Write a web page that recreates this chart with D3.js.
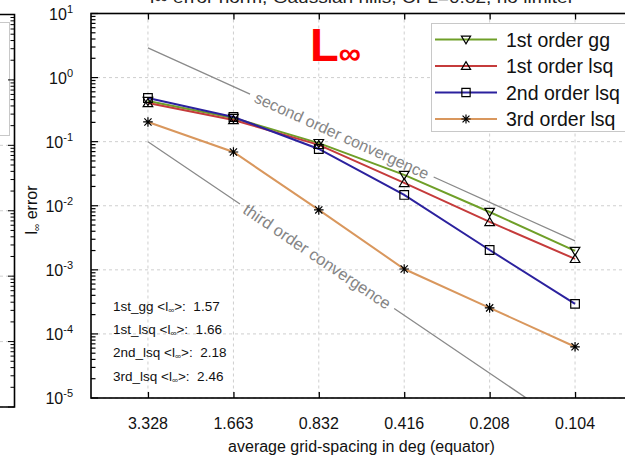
<!DOCTYPE html>
<html><head><meta charset="utf-8">
<script src="https://cdn.jsdelivr.net/npm/d3@7"></script>
<style>
body{margin:0;background:#fff}
svg{display:block}
text{font-family:"Liberation Sans",Arial,Helvetica,sans-serif}
</style>
</head><body>
<svg id="c" width="625" height="457"></svg>
<script>
// ---------- data ----------
const spacings = [3.328, 1.663, 0.832, 0.416, 0.208, 0.104];
const spacingLabels = ["3.328", "1.663", "0.832", "0.416", "0.208", "0.104"];
const gg1  = [0.43, 0.234, 0.095, 0.0303, 0.0080, 0.00197];
const lsq1 = [0.40, 0.218, 0.089, 0.0227, 0.00559, 0.00148];
const lsq2 = [0.48, 0.243, 0.0769, 0.01476, 0.00204, 0.000294];
const lsq3 = [0.203, 0.069, 0.0086, 0.00103, 0.000255, 0.000063];
const seriesNames = ["1st order gg", "1st order lsq", "2nd order lsq", "3rd order lsq"];
const seriesColors = ["#6f9f28", "#c53b3b", "#2b219e", "#d9975d"];
const seriesMarkers = ["tri-down", "tri-up", "square", "star"];
const yTickExps = [1, 0, -1, -2, -3, -4, -5];
const rateNames = ["1st_gg", "1st_lsq", "2nd_lsq", "3rd_lsq"];
const rateValues = ["1.57", "1.66", "2.18", "2.46"];
const secondOrderH = [3.328, 0.104], secondOrderV = [2.9, 0.00283];
const thirdOrderH = [3.328, 0.104], thirdOrderV = [0.1, 3.05e-6];
const titleText = "l\u221E error norm, Gaussian hills, CFL=0.82, no limiter";

const allSeries = [gg1, lsq1, lsq2, lsq3];

// ---------- layout ----------
const svg = d3.select("#c");
const L = 91, R = 632, T = 13.5, B = 398;
const ext = Math.pow(2, 2/3);
const x = d3.scaleLog().domain([spacings[0]*ext, spacings[5]/ext]).range([L, R]);
const y = d3.scaleLog().domain([1e-5, 10]).range([B, T]);

const defs = svg.append("defs");
defs.append("clipPath").attr("id", "plotclip").append("rect")
  .attr("x", L).attr("y", T).attr("width", R - L).attr("height", B - T);

// ---------- left partial neighbour panel ----------
const yL = d3.scaleLog().domain([1e-5, 10]).range([407, 14.5]);
const lp = svg.append("g");
yTickExps.forEach(e => {
  lp.append("line").attr("x1", 0).attr("x2", 14).attr("y1", yL(Math.pow(10, e))).attr("y2", yL(Math.pow(10, e)))
    .attr("stroke", "#cfcfcf").attr("stroke-dasharray", "3,3");
});
lp.append("rect").attr("x", -120).attr("y", 22.5).attr("width", 129.5).attr("height", 113)
  .attr("fill", "#fff").attr("stroke", "#c8c8c8");
const minorL = [];
for (let e = -5; e < 1; e++) for (let m = 1; m < 10; m++) minorL.push(m * Math.pow(10, e));
minorL.push(10);
lp.selectAll("line.tk").data(minorL).join("line").attr("class", "tk")
  .attr("x1", 14.5).attr("x2", d => Math.abs(Math.log10(d) - Math.round(Math.log10(d))) < 1e-9 ? 8 : 10.5)
  .attr("y1", d => yL(d)).attr("y2", d => yL(d)).attr("stroke", "#000");
lp.append("path").attr("d", `M0,14.5H14.5V407H0`).attr("fill", "none").attr("stroke", "#000").attr("stroke-width", 1.6);

// ---------- title (cropped at top, as in the reference) ----------
svg.append("text").attr("x", 362).attr("y", 3).attr("text-anchor", "middle")
  .attr("font-size", 16).attr("fill", "#222").attr("textLength", 424).attr("lengthAdjust", "spacingAndGlyphs")
  .text(titleText);

// ---------- grid ----------
const grid = svg.append("g");
grid.selectAll("line.v").data(spacings).join("line").attr("class", "v")
  .attr("x1", d => x(d)).attr("x2", d => x(d)).attr("y1", T).attr("y2", B)
  .attr("stroke", "#cfcfcf").attr("stroke-dasharray", "3,3");
grid.selectAll("line.h").data(yTickExps).join("line").attr("class", "h")
  .attr("x1", L).attr("x2", R).attr("y1", d => y(Math.pow(10, d))).attr("y2", d => y(Math.pow(10, d)))
  .attr("stroke", "#cfcfcf").attr("stroke-dasharray", "3,3");

// ---------- reference convergence lines ----------
function refLine(hs, vs, label, t, fs) {
  const g = svg.append("g").attr("clip-path", "url(#plotclip)");
  const pts = hs.map((h, i) => [x(h), y(vs[i])]);
  const path = g.append("path").attr("d", d3.line()(pts)).attr("fill", "none")
    .attr("stroke", "#8a8a8a").attr("stroke-width", 1.3);
  const len = path.node().getTotalLength();
  const ang = Math.atan2(pts[1][1] - pts[0][1], pts[1][0] - pts[0][0]) * 180 / Math.PI;
  const cx = pts[0][0] + t * (pts[1][0] - pts[0][0]);
  const cy = pts[0][1] + t * (pts[1][1] - pts[0][1]);
  const txt = svg.append("text").attr("transform", `translate(${cx},${cy}) rotate(${ang})`)
    .attr("text-anchor", "middle").attr("dy", "0.35em").attr("font-size", fs).attr("fill", "#858585").text(label);
  const tl = txt.node().getComputedTextLength();
  const gap = 6;
  path.attr("stroke-dasharray", `${t*len - tl/2 - gap},${tl + 2*gap},${len*2}`);
}
refLine(secondOrderH, secondOrderV, "second order convergence", 0.454, 16);
refLine(thirdOrderH, thirdOrderV, "third order convergence", 0.396, 16.5);

// ---------- series ----------
function markerPath(type, s) {
  switch (type) {
    case "tri-down": return `M${-s},${-s*0.75}L${s},${-s*0.75}L0,${s*0.95}Z`;
    case "tri-up": return `M${-s},${s*0.75}L${s},${s*0.75}L0,${-s*0.95}Z`;
    case "square": return `M${-s*0.9},${-s*0.9}H${s*0.9}V${s*0.9}H${-s*0.9}Z`;
    case "star": { const d = s*0.75; return `M${-s},0H${s}M0,${-s}V${s}M${-d},${-d}L${d},${d}M${-d},${d}L${d},${-d}`; }
  }
}
const plotG = svg.append("g");
allSeries.forEach((vals, i) => {
  const pts = vals.map((v, j) => [x(spacings[j]), y(v)]);
  plotG.append("path").attr("d", d3.line()(pts)).attr("fill", "none")
    .attr("stroke", seriesColors[i]).attr("stroke-width", 2);
});
allSeries.forEach((vals, i) => {
  plotG.selectAll(null).data(vals).join("path")
    .attr("transform", (v, j) => `translate(${x(spacings[j])},${y(v)})`)
    .attr("d", markerPath(seriesMarkers[i], 4.8))
    .attr("fill", "none").attr("stroke", "#000").attr("stroke-width", 1.2);
});

// ---------- axes ----------
const minorTicks = [];
for (let e = -5; e < 1; e++) for (let m = 1; m < 10; m++) minorTicks.push(m * Math.pow(10, e));
minorTicks.push(10);
const isMajor = d => Math.abs(Math.log10(d) - Math.round(Math.log10(d))) < 1e-9;
svg.append("g").selectAll("line").data(minorTicks).join("line")
  .attr("x1", L).attr("x2", d => isMajor(d) ? L + 7 : L + 4.5)
  .attr("y1", d => y(d)).attr("y2", d => y(d)).attr("stroke", "#000").attr("stroke-width", 1.2);

svg.append("g").attr("transform", `translate(0,${T})`)
  .call(d3.axisTop(x).tickValues(spacings).tickSize(-6).tickFormat(""))
  .call(g => g.select(".domain").remove())
  .call(g => g.selectAll("line").attr("stroke-width", 1.3));
svg.append("g").attr("transform", `translate(0,${B})`)
  .call(d3.axisBottom(x).tickValues(spacings).tickSize(-6).tickFormat(""))
  .call(g => g.select(".domain").remove())
  .call(g => g.selectAll("line").attr("stroke-width", 1.3));

svg.append("rect").attr("x", L).attr("y", T).attr("width", R - L).attr("height", B - T)
  .attr("fill", "none").attr("stroke", "#000").attr("stroke-width", 1.6);

// x tick labels
svg.append("g").selectAll("text").data(spacings).join("text")
  .attr("x", d => x(d)).attr("y", 428.5).attr("text-anchor", "middle")
  .attr("font-size", 16).attr("fill", "#111").text((d, i) => spacingLabels[i]);
// x title
svg.append("text").attr("x", (L + R) / 2).attr("y", 452).attr("text-anchor", "middle")
  .attr("font-size", 16).attr("fill", "#111").text("average grid-spacing in deg (equator)");

// y tick labels
const yl = svg.append("g").selectAll("text").data(yTickExps).join("text")
  .attr("x", 73).attr("y", d => y(Math.pow(10, d)) + 6).attr("text-anchor", "end")
  .attr("font-size", 16).attr("fill", "#111");
yl.append("tspan").text("10");
yl.append("tspan").attr("dy", -7).attr("font-size", 11).text(d => String(d));

// y title
const yt = svg.append("text").attr("transform", "translate(37,210) rotate(-90)").attr("text-anchor", "middle")
  .attr("font-size", 16).attr("fill", "#111");
yt.append("tspan").text("l");
yt.append("tspan").attr("font-size", 10).attr("dy", 3).text("\u221E");
yt.append("tspan").attr("dy", -3).text(" error");

// ---------- red L-infinity ----------
const big = svg.append("text").attr("x", 310).attr("y", 61).attr("fill", "#ff0000").attr("font-weight", "bold");
big.append("tspan").attr("font-size", 47).text("L");
big.append("tspan").attr("font-size", 31).attr("dy", 3).text("\u221E");

// ---------- rates text ----------
const rates = svg.append("g");
rateNames.forEach((n, i) => {
  const t = rates.append("text").attr("x", 113).attr("y", 311 + i * 23.2).attr("font-size", 13.5)
    .attr("fill", "#111").style("white-space", "pre");
  t.append("tspan").text(n + " <l");
  t.append("tspan").attr("font-size", 8.5).attr("dy", 2).text("\u221E");
  t.append("tspan").attr("dy", -2).text(">:  " + rateValues[i]);
});

// ---------- legend ----------
const lg = svg.append("g");
lg.append("rect").attr("x", 431.5).attr("y", 23.5).attr("width", 230).attr("height", 108)
  .attr("fill", "#fff").attr("stroke", "#c8c8c8");
seriesNames.forEach((n, i) => {
  const yy = 39.5 + i * 26.5;
  lg.append("line").attr("x1", 435).attr("x2", 497).attr("y1", yy).attr("y2", yy)
    .attr("stroke", seriesColors[i]).attr("stroke-width", 2);
  lg.append("path").attr("transform", `translate(466,${yy})`).attr("d", markerPath(seriesMarkers[i], 4.6))
    .attr("fill", "none").attr("stroke", "#000").attr("stroke-width", 1.2);
  lg.append("text").attr("x", 506).attr("y", yy + 7).attr("font-size", 19.5).attr("fill", "#111").text(n);
});
</script>
</body></html>
